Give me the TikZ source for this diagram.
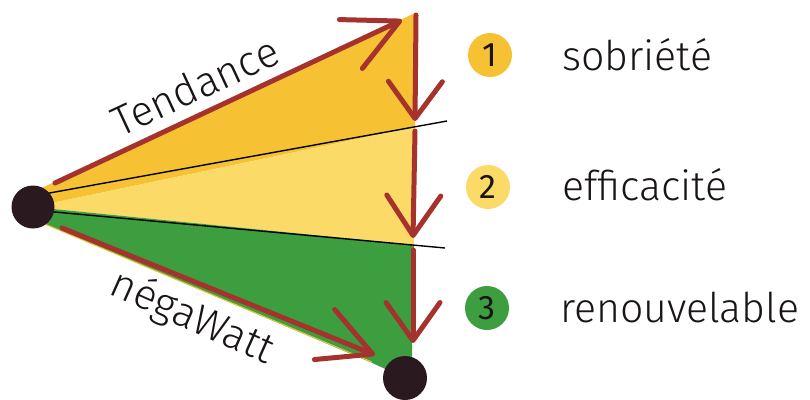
\documentclass[tikz,border=0pt]{standalone}
\usepackage{fontspec}
\newfontfamily\hand{Fira Sans Light}
\newfontfamily\digit{Fira Sans}
\usetikzlibrary{arrows.meta}
\definecolor{gold}{RGB}{246,194,52}
\definecolor{pale}{RGB}{252,218,104}
\definecolor{leaf}{RGB}{60,158,62}
\definecolor{arrowred}{RGB}{165,50,45}
\definecolor{dotc}{RGB}{42,26,32}
\definecolor{ink}{RGB}{25,20,22}
\tikzset{
  redarrow/.style={draw=arrowred, line width=5pt, line cap=round,
    -{Straight Barb[length=#1, width=54pt, round]}},
  redarrow/.default=40pt,
  divider/.style={draw=black, line width=1.4pt},
  dot/.style={circle, fill=dotc, inner sep=0pt, minimum size=43pt},
  badge/.style={circle, inner sep=0pt, minimum size=44pt, text=ink, font=\digit\fontsize{34}{36}\selectfont},
  legend/.style={anchor=base west, inner sep=0pt, text=ink, font=\hand\fontsize{41}{44}\selectfont},
  slanted/.style={inner sep=0pt, text=ink, font=\hand\fontsize{42}{46}\selectfont}
}
\begin{document}
\begin{tikzpicture}[x=1pt, y=-1pt]
\useasboundingbox (0,0) rectangle (810,399);
% key points
\coordinate (A) at (33,207);
\coordinate (T) at (415,13);
\coordinate (D1) at (415,127);
\coordinate (D2) at (414,245);
\coordinate (G) at (412,356);
% fills
\fill[gold] (33,192) -- (T) -- (D1) -- (A) -- cycle;
\fill[pale] (A) -- (D1) -- (D2) -- cycle;
\fill[leaf] (A) -- (D2) -- (G) -- (403,377) -- (370,362) -- (33,219) -- cycle;
\draw[gold, line width=1pt] (40,222) -- (372,362);
% dividers
\draw[divider] (33,196) -- (447,121);
\draw[divider] (33,210) -- (445,248);
% arrows
\coordinate (ts) at (55,183);
\coordinate (te) at (402,20);
\coordinate (bs) at (62,228);
\coordinate (be) at (375,355);
\coordinate (v0) at (416,15);
\coordinate (v1) at (415,121);
\coordinate (v2) at (415,131);
\coordinate (v3) at (413,238);
\coordinate (v4) at (413,250);
\coordinate (v5) at (413,343);
\draw[redarrow=54pt] (ts) -- (te);
\draw[redarrow=52pt] (bs) -- (be);
\draw[redarrow=37pt] (v0) -- (v1);
\draw[redarrow=40pt] (v2) -- (v3);
\draw[redarrow=38pt] (v4) -- (v5);
% dots
\node[dot] (src) at (A) {};
\node[dot, minimum size=44pt] (dst) at (405,378) {};
% slanted labels
\node[slanted, rotate=25] (tend) at (195,86) {Tendance};
\node[slanted, rotate=-24] (nega) at (192,318) {négaWatt};
% legend
\node[badge, fill=gold] (b1) at (490,55) {1};
\node[badge, fill=pale] (b2) at (488,187) {2};
\node[badge, fill=leaf] (b3) at (487,308) {3};
\node[legend] (l1) at (562,70) {sobriété};
\node[legend] (l2) at (562,200) {efficacité};
\node[legend] (l3) at (560,322) {renouvelable};
\end{tikzpicture}
\end{document}
